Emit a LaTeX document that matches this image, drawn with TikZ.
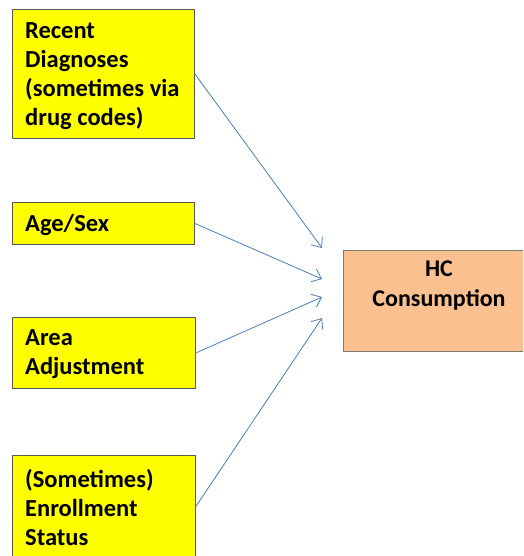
\documentclass[tikz,border=0pt]{standalone}
\usepackage{fontspec}
\setmainfont{Carlito}
\usetikzlibrary{arrows.meta}
\definecolor{inputfill}{HTML}{FFFF00}
\definecolor{outputfill}{HTML}{FAC090}
\definecolor{boxline}{HTML}{5A5A4A}
\definecolor{arrowline}{HTML}{4A7EBB}
\tikzset{
  inbox/.style={draw=boxline, fill=inputfill, line width=0.9pt, inner sep=0pt, anchor=north west},
  outbox/.style={draw=boxline!80, fill=outputfill, line width=0.9pt, inner sep=0pt, anchor=north west},
  lbl/.style={inner sep=0pt, align=left, anchor=north west,
    font=\fontsize{24.5}{29}\selectfont\bfseries},
  clbl/.style={inner sep=0pt, align=center, anchor=north,
    font=\fontsize{24}{30}\selectfont\bfseries},
  feed/.style={draw=arrowline, line width=0.8pt,
    -{Straight Barb[length=8.5pt,width=14pt,line width=0.8pt]}}
}
\begin{document}
\begin{tikzpicture}[x=1pt,y=-1pt]
  \clip (0,0) rectangle (523,556);
  \fill[white] (0,0) rectangle (523,556);

  % input boxes
  \node[inbox, minimum width=182pt, minimum height=129pt] (diag) at (12,9) {};
  \node[inbox, minimum width=182pt, minimum height=42pt] (age) at (12,202) {};
  \node[inbox, minimum width=183pt, minimum height=71pt] (area) at (12,317) {};
  \node[inbox, minimum width=183pt, minimum height=102pt] (enrol) at (12,455) {};

  % output box, running past the right edge
  \node[outbox, minimum width=190pt, minimum height=101pt] (hc) at (343,250) {};

  % labels
  \node[lbl] (diagtxt) at (25,22) {Recent\\Diagnoses\\(sometimes via\\drug codes)};
  \node[lbl] (agetxt) at (25,214) {Age/Sex};
  \node[lbl] (areatxt) at (25,329) {Area\\Adjustment};
  \node[lbl] (enroltxt) at (25,469) {(Sometimes)\\Enrollment\\Status};
  \node[clbl] (hctxt) at (439,261) {HC\\Consumption};

  % arrow tips stop short of the output box
  \coordinate (t1) at (322,248);
  \coordinate (t2) at (322,279);
  \coordinate (t3) at (322,297);
  \coordinate (t4) at (322,318);

  \draw[feed] (diag.east) -- (t1);
  \draw[feed] (age.east) -- (t2);
  \draw[feed] (area.east) -- (t3);
  \draw[feed] (enrol.east) -- (t4);
\end{tikzpicture}
\end{document}
